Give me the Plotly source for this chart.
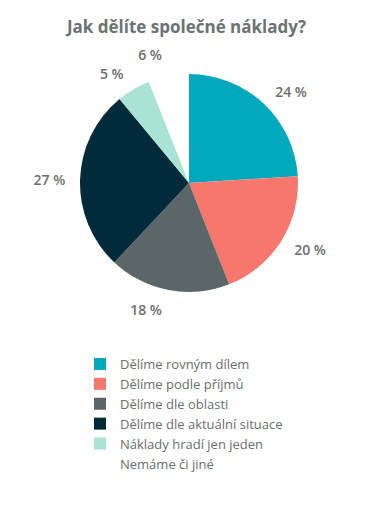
import plotly.graph_objects as go

labels = ["Dělíme rovným dílem", "Dělíme podle příjmů", "Dělíme dle oblasti",
          "Dělíme dle aktuální situace", "Náklady hradí jen jeden", "Nemáme či jiné"]
values = [24, 20, 18, 27, 5, 6]
colors = ["#00A9BB", "#F8776C", "#5A6667", "#012A3A", "#A9E3D3", "#FFFFFF"]

W, H = 373, 526
cx, cy, r = 189, 183, 109
r_lab = 119  # radius of the invisible ring that carries the outside labels


def dom(rad):
    return dict(x=[(cx - rad) / W, (cx + rad) / W], y=[1 - (cy + rad) / H, 1 - (cy - rad) / H])


fig = go.Figure()
# invisible ring for labels (slightly larger radius, like the reference's label offset)
fig.add_trace(go.Pie(
    labels=labels, values=values, sort=False, direction="clockwise", rotation=0,
    marker=dict(colors=["rgba(0,0,0,0)"] * len(values), line=dict(width=0)),
    texttemplate="%{value} %", textposition="outside",
    textfont=dict(family="Open Sans", size=14, color="#6E6E6E", weight=600),
    domain=dom(r_lab), showlegend=False, hoverinfo="skip",
))
# visible pie
fig.add_trace(go.Pie(
    labels=labels, values=values, sort=False, direction="clockwise", rotation=0,
    marker=dict(colors=colors, line=dict(width=0)),
    textinfo="none",
    domain=dom(r), hoverinfo="label+value",
))

fig.update_layout(
    width=W, height=H, margin=dict(l=0, r=0, t=0, b=0),
    paper_bgcolor="white", plot_bgcolor="white",
    title=dict(text="<b>Jak dělíte společné náklady?</b>", x=0.5, xanchor="center",
               y=1 - 27 / H, yanchor="middle",
               font=dict(family="Open Sans", size=17, color="#6B7373")),
    legend=dict(x=80 / W, y=1 - 349 / H, xanchor="left", yanchor="top",
                font=dict(family="Open Sans", size=13, color="#6A6E6F"),
                tracegroupgap=0, itemwidth=30),
)

post = """
document.body.style.margin = '0';
document.querySelectorAll('path.textline').forEach(function(e){ e.remove(); });
"""
fig.write_html("out.html", post_script=post, config={"displayModeBar": False})
